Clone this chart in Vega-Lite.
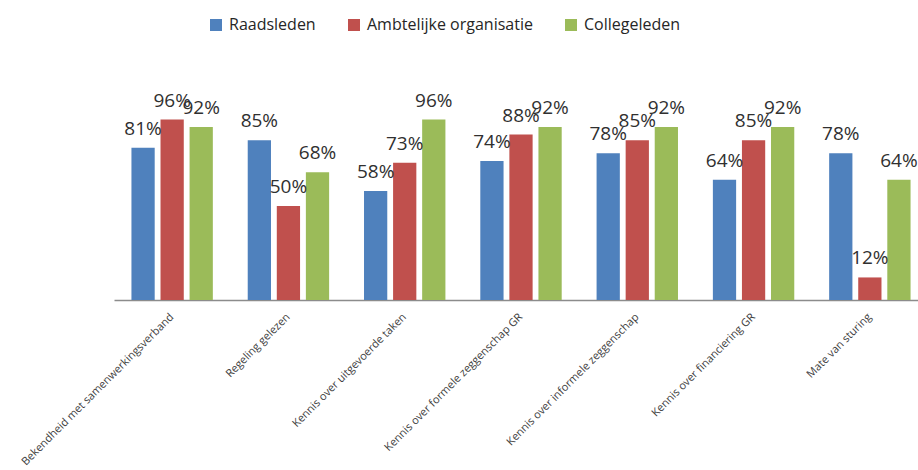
{
  "$schema": "https://vega.github.io/schema/vega-lite/v6.json",
  "width": 804,
  "height": 188,
  "autosize": {"type": "none"},
  "padding": {"left": 114, "top": 112, "right": 0, "bottom": 170},
  "background": "white",
  "config": {"view": {"stroke": null}, "font": "Open Sans"},
  "data": {
    "values": [
      {"cat": "Bekendheid met samenwerkingsverband", "series": "Raadsleden", "value": 0.81},
      {"cat": "Bekendheid met samenwerkingsverband", "series": "Ambtelijke organisatie", "value": 0.96},
      {"cat": "Bekendheid met samenwerkingsverband", "series": "Collegeleden", "value": 0.92},
      {"cat": "Regeling gelezen", "series": "Raadsleden", "value": 0.85},
      {"cat": "Regeling gelezen", "series": "Ambtelijke organisatie", "value": 0.50},
      {"cat": "Regeling gelezen", "series": "Collegeleden", "value": 0.68},
      {"cat": "Kennis over uitgevoerde taken", "series": "Raadsleden", "value": 0.58},
      {"cat": "Kennis over uitgevoerde taken", "series": "Ambtelijke organisatie", "value": 0.73},
      {"cat": "Kennis over uitgevoerde taken", "series": "Collegeleden", "value": 0.96},
      {"cat": "Kennis over formele zeggenschap GR", "series": "Raadsleden", "value": 0.74},
      {"cat": "Kennis over formele zeggenschap GR", "series": "Ambtelijke organisatie", "value": 0.88},
      {"cat": "Kennis over formele zeggenschap GR", "series": "Collegeleden", "value": 0.92},
      {"cat": "Kennis over informele zeggenschap", "series": "Raadsleden", "value": 0.78},
      {"cat": "Kennis over informele zeggenschap", "series": "Ambtelijke organisatie", "value": 0.85},
      {"cat": "Kennis over informele zeggenschap", "series": "Collegeleden", "value": 0.92},
      {"cat": "Kennis over financiering GR", "series": "Raadsleden", "value": 0.64},
      {"cat": "Kennis over financiering GR", "series": "Ambtelijke organisatie", "value": 0.85},
      {"cat": "Kennis over financiering GR", "series": "Collegeleden", "value": 0.92},
      {"cat": "Mate van sturing", "series": "Raadsleden", "value": 0.78},
      {"cat": "Mate van sturing", "series": "Ambtelijke organisatie", "value": 0.12},
      {"cat": "Mate van sturing", "series": "Collegeleden", "value": 0.64}
    ]
  },
  "encoding": {
    "x": {
      "field": "cat",
      "type": "nominal",
      "sort": null,
      "title": null,
      "scale": {"range": [0, 814], "paddingInner": 0.3, "paddingOuter": 0.15},
      "axis": {
        "labelAngle": -45,
        "labelAlign": "right",
        "labelBaseline": "middle",
        "labelFontSize": 11,
        "labelColor": "#404040",
        "labelPadding": 15,
        "labelLimit": 400,
        "ticks": false,
        "domainColor": "#8c8c8c",
        "domainWidth": 1.5
      }
    },
    "xOffset": {
      "field": "series",
      "type": "nominal",
      "sort": ["Raadsleden", "Ambtelijke organisatie", "Collegeleden"],
      "scale": {"paddingInner": 0.2}
    },
    "y": {
      "field": "value",
      "type": "quantitative",
      "scale": {"domain": [0, 1]},
      "axis": null
    }
  },
  "layer": [
    {
      "mark": {"type": "bar"},
      "encoding": {
        "color": {
          "field": "series",
          "type": "nominal",
          "sort": ["Raadsleden", "Ambtelijke organisatie", "Collegeleden"],
          "scale": {
            "domain": ["Raadsleden", "Ambtelijke organisatie", "Collegeleden"],
            "range": ["#4F81BD", "#C0504D", "#9BBB59"]
          },
          "legend": {
            "title": null,
            "orient": "none",
            "direction": "horizontal",
            "legendX": 94,
            "legendY": -95,
            "symbolType": "square",
            "symbolSize": 144,
            "symbolStrokeWidth": 0,
            "labelFontSize": 16,
            "labelColor": "#262626",
            "labelLimit": 0,
            "labelOffset": 5,
            "columnPadding": 30
          }
        }
      }
    },
    {
      "mark": {"type": "text", "baseline": "alphabetic", "dy": -13, "fontSize": 19, "color": "#303030"},
      "encoding": {
        "text": {"field": "value", "type": "quantitative", "format": ".0%"}
      }
    }
  ]
}
